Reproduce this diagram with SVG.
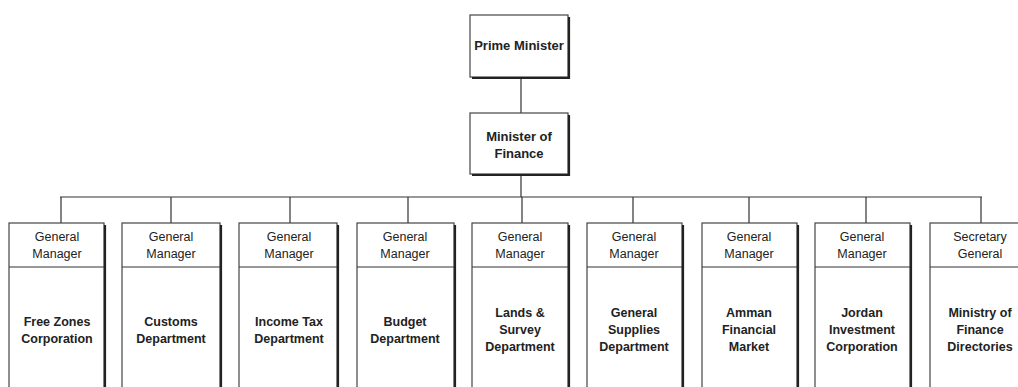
<svg xmlns="http://www.w3.org/2000/svg" width="1018" height="387" viewBox="0 0 1018 387">
<style>
.box{fill:#fff;stroke:#444;stroke-width:1.2}
.sh{fill:none;stroke:#222;stroke-width:2.2}
.ln{fill:none;stroke:#333;stroke-width:1.2}
.hd{font-family:"Liberation Sans",Arial,sans-serif;font-size:12.5px;fill:#222;text-anchor:middle}
.bd{font-family:"Liberation Sans",Arial,sans-serif;font-size:12.5px;font-weight:bold;fill:#222;text-anchor:middle}
.tp{font-family:"Liberation Sans",Arial,sans-serif;font-size:13px;font-weight:bold;fill:#222;text-anchor:middle}
</style>
<rect width="1018" height="387" fill="#fff"/>
<g id="connectors">
<path class="ln" d="M521 78V113M521 175V197M60 197H982"/>
<path class="ln" d="M61 197V223M171 197V223M290 197V223M408 197V223M522 197V223M633 197V223M749 197V223M866 197V223M981 197V223"/>
</g>
<g id="prime-minister">
<rect class="box" x="470" y="15" width="98" height="62"/>
<path class="sh" d="M569 17V78H472"/>
<text class="tp" x="519" y="50">Prime Minister</text>
</g>
<g id="minister-finance">
<rect class="box" x="470" y="113" width="98" height="61"/>
<path class="sh" d="M569 115V175H472"/>
<text class="tp" x="519" y="141">Minister of</text>
<text class="tp" x="519" y="158">Finance</text>
</g>
<g id="free-zones">
<rect class="box" x="9" y="223" width="95" height="170"/>
<path class="sh" d="M105 225V390"/>
<path class="ln" d="M9 267H104"/>
<text class="hd" x="57" y="241">General</text>
<text class="hd" x="57" y="258">Manager</text>
<text class="bd" x="57" y="326">Free Zones</text>
<text class="bd" x="57" y="343">Corporation</text>
</g>
<g id="customs">
<rect class="box" x="122" y="223" width="98" height="170"/>
<path class="sh" d="M221 225V390"/>
<path class="ln" d="M122 267H220"/>
<text class="hd" x="171" y="241">General</text>
<text class="hd" x="171" y="258">Manager</text>
<text class="bd" x="171" y="326">Customs</text>
<text class="bd" x="171" y="343">Department</text>
</g>
<g id="income-tax">
<rect class="box" x="239" y="223" width="98" height="170"/>
<path class="sh" d="M338 225V390"/>
<path class="ln" d="M239 267H337"/>
<text class="hd" x="289" y="241">General</text>
<text class="hd" x="289" y="258">Manager</text>
<text class="bd" x="289" y="326">Income Tax</text>
<text class="bd" x="289" y="343">Department</text>
</g>
<g id="budget">
<rect class="box" x="357" y="223" width="97" height="170"/>
<path class="sh" d="M455 225V390"/>
<path class="ln" d="M357 267H454"/>
<text class="hd" x="405" y="241">General</text>
<text class="hd" x="405" y="258">Manager</text>
<text class="bd" x="405" y="326">Budget</text>
<text class="bd" x="405" y="343">Department</text>
</g>
<g id="lands-survey">
<rect class="box" x="472" y="223" width="96" height="170"/>
<path class="sh" d="M569 225V390"/>
<path class="ln" d="M472 267H568"/>
<text class="hd" x="520" y="241">General</text>
<text class="hd" x="520" y="258">Manager</text>
<text class="bd" x="520" y="317">Lands &amp;</text>
<text class="bd" x="520" y="334">Survey</text>
<text class="bd" x="520" y="351">Department</text>
</g>
<g id="general-supplies">
<rect class="box" x="587" y="223" width="95" height="170"/>
<path class="sh" d="M683 225V390"/>
<path class="ln" d="M587 267H682"/>
<text class="hd" x="634" y="241">General</text>
<text class="hd" x="634" y="258">Manager</text>
<text class="bd" x="634" y="317">General</text>
<text class="bd" x="634" y="334">Supplies</text>
<text class="bd" x="634" y="351">Department</text>
</g>
<g id="amman-market">
<rect class="box" x="702" y="223" width="95" height="170"/>
<path class="sh" d="M798 225V390"/>
<path class="ln" d="M702 267H797"/>
<text class="hd" x="749" y="241">General</text>
<text class="hd" x="749" y="258">Manager</text>
<text class="bd" x="749" y="317">Amman</text>
<text class="bd" x="749" y="334">Financial</text>
<text class="bd" x="749" y="351">Market</text>
</g>
<g id="jordan-investment">
<rect class="box" x="815" y="223" width="95" height="170"/>
<path class="sh" d="M911 225V390"/>
<path class="ln" d="M815 267H910"/>
<text class="hd" x="862" y="241">General</text>
<text class="hd" x="862" y="258">Manager</text>
<text class="bd" x="862" y="317">Jordan</text>
<text class="bd" x="862" y="334">Investment</text>
<text class="bd" x="862" y="351">Corporation</text>
</g>
<g id="ministry-directories">
<rect class="box" x="930" y="223" width="96" height="170"/>
<path class="ln" d="M930 267H1026"/>
<text class="hd" x="980" y="241">Secretary</text>
<text class="hd" x="980" y="258">General</text>
<text class="bd" x="980" y="317">Ministry of</text>
<text class="bd" x="980" y="334">Finance</text>
<text class="bd" x="980" y="351">Directories</text>
</g>
</svg>
